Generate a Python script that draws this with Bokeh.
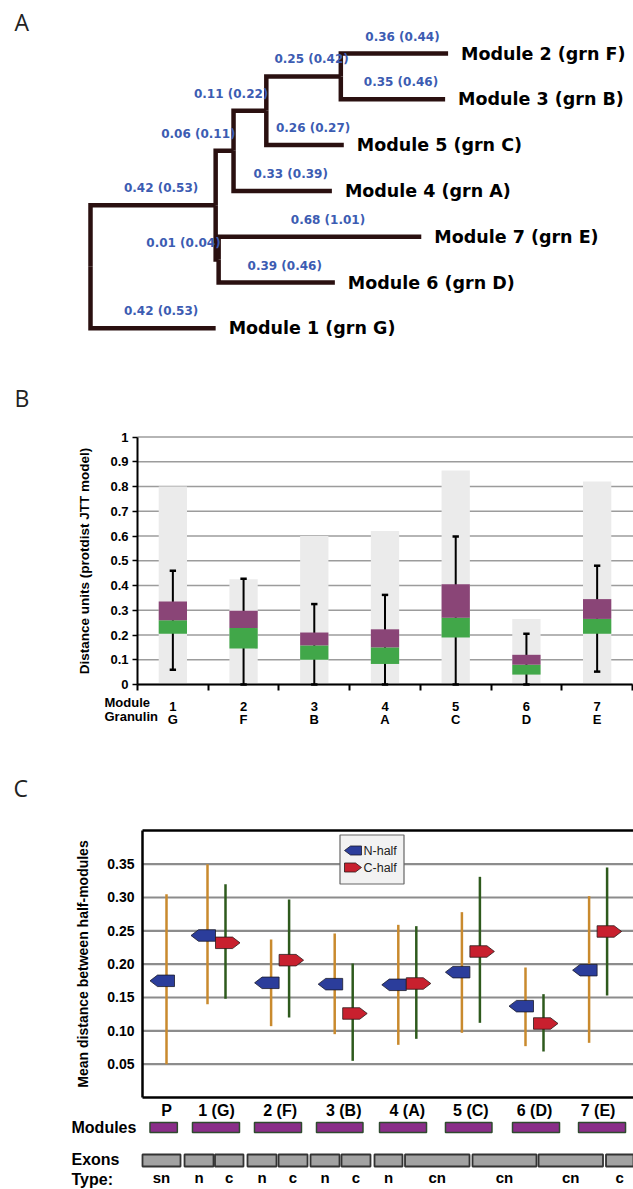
import numpy as np
from bokeh.plotting import figure
from bokeh.models import Range1d, FixedTicker, LinearAxis
from bokeh.layouts import column
from bokeh.embed import file_html
from bokeh.resources import INLINE
from bokeh.core.properties import value

# ======================= DATA =======================
# Panel A : tree (parent, child, branch length, label)
tree_parent = ["root", "root", "n1", "n1", "n2", "n2", "n3", "n3", "n4", "n4", "n5", "n5"]
tree_child = ["n1", "M1", "n2", "n5", "n3", "M4", "n4", "M5", "M2", "M3", "M7", "M6"]
branch_len = [0.42, 0.42, 0.06, 0.01, 0.11, 0.33, 0.25, 0.26, 0.36, 0.35, 0.68, 0.39]
branch_text = ["0.42 (0.53)", "0.42 (0.53)", "0.06 (0.11)", "0.01 (0.04)", "0.11 (0.22)",
               "0.33 (0.39)", "0.25 (0.42)", "0.26 (0.27)", "0.36 (0.44)", "0.35 (0.46)",
               "0.68 (1.01)", "0.39 (0.46)"]
leaf_ids = ["M2", "M3", "M5", "M4", "M7", "M6", "M1"]
leaf_names = ["Module 2 (grn F)", "Module 3 (grn B)", "Module 5 (grn C)", "Module 4 (grn A)",
              "Module 7 (grn E)", "Module 6 (grn D)", "Module 1 (grn G)"]

# Panel B
modules_b = ["1", "2", "3", "4", "5", "6", "7"]
granulins_b = ["G", "F", "B", "A", "C", "D", "E"]
max_b = [0.80, 0.425, 0.60, 0.62, 0.865, 0.265, 0.82]
q1_b = [0.205, 0.145, 0.10, 0.083, 0.19, 0.04, 0.205]
median_b = [0.26, 0.228, 0.158, 0.15, 0.27, 0.08, 0.265]
q3_b = [0.335, 0.298, 0.21, 0.223, 0.405, 0.12, 0.345]
wlow_b = [0.06, 0.0, 0.0, 0.0, 0.0, 0.0, 0.052]
whigh_b = [0.46, 0.427, 0.325, 0.362, 0.598, 0.205, 0.48]
yticks_b = [0.0, 0.1, 0.2, 0.3, 0.4, 0.5, 0.6, 0.7, 0.8, 0.9, 1.0]
ytick_labels_b = ["0", "0.1", "0.2", "0.3", "0.4", "0.5", "0.6", "0.7", "0.8", "0.9", "1"]

# Panel C
cats_c = ["P", "1 (G)", "2 (F)", "3 (B)", "4 (A)", "5 (C)", "6 (D)", "7 (E)"]
n_mean = [0.175, 0.243, 0.172, 0.170, 0.169, 0.188, 0.137, 0.191]
n_low = [0.050, 0.140, 0.107, 0.095, 0.079, 0.097, 0.077, 0.082]
n_high = [0.305, 0.350, 0.237, 0.246, 0.259, 0.278, 0.195, 0.302]
c_mean = [np.nan, 0.232, 0.206, 0.126, 0.171, 0.219, 0.111, 0.249]
c_low = [np.nan, 0.148, 0.120, 0.055, 0.088, 0.112, 0.069, 0.153]
c_high = [np.nan, 0.320, 0.297, 0.201, 0.257, 0.331, 0.155, 0.345]
yticks_c = [0.05, 0.10, 0.15, 0.20, 0.25, 0.30, 0.35]
ytick_labels_c = ["0.05", "0.10", "0.15", "0.20", "0.25", "0.30", "0.35"]
module_start = [-0.03, 0.638, 1.613, 2.588, 3.579, 4.616, 5.670, 6.708]
module_end = [0.40, 1.377, 2.352, 3.319, 4.318, 5.347, 6.409, 7.447]
exon_types = ["sn", "n", "c", "n", "c", "n", "c", "n", "cn", "cn", "cn", "c"]
exon_start = [-0.148, 0.513, 0.992, 1.503, 1.991, 2.494, 2.981, 3.500, 3.980, 5.041, 6.079, 7.140]
exon_end = [0.450, 0.969, 1.440, 1.959, 2.447, 2.950, 3.437, 3.940, 4.994, 6.047, 7.093, 7.572]

# ======================= LAYOUT =======================
W = 633
ARIAL = "Liberation Sans"
DV = "DejaVu Sans"
LETTER = "Open Sans"


def make_fig(h, xr, yr):
    p = figure(width=W, height=h, output_backend="svg", toolbar_location=None,
               x_range=xr, y_range=yr, x_axis_location=None, y_axis_location=None,
               min_border_left=0, min_border_right=0, min_border_top=0, min_border_bottom=0)
    p.background_fill_color = "white"
    p.border_fill_color = "white"
    p.outline_line_color = None
    p.grid.visible = False
    return p


# ---------------- Panel A (page y 0-370) ----------------
HA = 370
SXA, SYA = 298.0, 45.8
ROOT_PX, LEAF0_PX = 90.0, 53.0
pa = make_fig(HA, Range1d(-ROOT_PX / SXA, (W - ROOT_PX) / SXA),
              Range1d((HA - LEAF0_PX) / SYA, -LEAF0_PX / SYA))

xpos = {"root": 0.0}
for par, ch, L in zip(tree_parent, tree_child, branch_len):
    xpos[ch] = xpos[par] + L
ypos = {leaf: float(i) for i, leaf in enumerate(leaf_ids)}
children = {}
for par, ch in zip(tree_parent, tree_child):
    children.setdefault(par, []).append(ch)


def gety(n):
    if n not in ypos:
        ys = [gety(c) for c in children[n]]
        ypos[n] = (min(ys) + max(ys)) / 2.0
    return ypos[n]


gety("root")
exs = [[xpos[p], xpos[p], xpos[c]] for p, c in zip(tree_parent, tree_child)]
eys = [[ypos[p], ypos[c], ypos[c]] for p, c in zip(tree_parent, tree_child)]
pa.multi_line(exs, eys, line_width=4.5, line_color="#2a1010", line_join="miter", line_cap="butt")

cx_l, cy_l, ct_l, rx_l, ry_l, rt_l = [], [], [], [], [], []
for p, c, L, t in zip(tree_parent, tree_child, branch_len, branch_text):
    yl = ypos[c] - 17.0 / SYA
    if L >= 0.2:
        cx_l.append((xpos[p] + xpos[c]) / 2 + 8.0 / SXA); cy_l.append(yl); ct_l.append(t)
    else:
        rx_l.append(xpos[c] + 2.0 / SXA); ry_l.append(yl); rt_l.append(t)
pa.text(cx_l, cy_l, ct_l, text_align="center", text_baseline="middle", text_font=value(DV),
        text_font_style="bold", text_font_size="12px", text_color="#3c5cb2")
pa.text(rx_l, ry_l, rt_l, text_align="right", text_baseline="middle", text_font=value(DV),
        text_font_style="bold", text_font_size="12px", text_color="#3c5cb2")
pa.text([xpos[l] + 13.0 / SXA for l in leaf_ids], [ypos[l] for l in leaf_ids], leaf_names,
        text_align="left", text_baseline="middle", text_font=value(DV), text_font_style="bold",
        text_font_size="17.5px", text_color="black")
pa.text([(14 - ROOT_PX) / SXA], [(21 - LEAF0_PX) / SYA], ["A"], text_align="left",
        text_baseline="middle", text_font=value(LETTER), text_font_size="23px", text_color="#222222")

# ---------------- Panel B (page y 370-745) ----------------
HB = 375
BX0, BY0 = 137.0, 684.0          # page px of data origin
BSX, BSY = (632 - 137) / 7.0, 247.5
TOPB = 370


def bx(px):
    return (px - BX0) / BSX


def by(py):
    return (BY0 - py) / BSY


pb = make_fig(HB, Range1d(bx(0), bx(W)), Range1d(by(TOPB + HB), by(TOPB)))
xb = [i + 0.5 for i in range(len(modules_b))]
nb = len(modules_b)
# horizontal grid lines
pb.segment(x0=[0] * len(yticks_b), y0=yticks_b, x1=[bx(W)] * len(yticks_b), y1=yticks_b,
           line_color="#9c9c9c", line_width=1.5)
pb.vbar(x=xb, top=max_b, bottom=0, width=0.4, fill_color="#ebebeb", line_color=None)
pb.segment(x0=xb, y0=wlow_b, x1=xb, y1=whigh_b, line_color="black", line_width=2)
pb.segment(x0=[x - 0.045 for x in xb], y0=whigh_b, x1=[x + 0.045 for x in xb], y1=whigh_b,
           line_color="black", line_width=2.5)
pb.segment(x0=[x - 0.045 for x in xb], y0=wlow_b, x1=[x + 0.045 for x in xb], y1=wlow_b,
           line_color="black", line_width=2.5)
pb.vbar(x=xb, bottom=q1_b, top=median_b, width=0.4, fill_color="#41a749", line_color=None)
pb.vbar(x=xb, bottom=median_b, top=q3_b, width=0.4, fill_color="#8a4577", line_color=None)

ya = LinearAxis(fixed_location=0, bounds=(0, 1.0), ticker=FixedTicker(ticks=yticks_b),
                major_label_overrides={t: s for t, s in zip(yticks_b, ytick_labels_b)},
                axis_line_color="black", axis_line_width=2, major_tick_out=5, major_tick_in=0,
                major_tick_line_width=1.5, minor_tick_line_color=None, major_label_standoff=4,
                major_label_text_font=ARIAL, major_label_text_font_style="bold",
                major_label_text_font_size="13px", major_label_text_color="black",
                axis_label="Distance units (protdist JTT model)", axis_label_text_font=ARIAL,
                axis_label_text_font_style="bold", axis_label_text_font_size="13.5px",
                axis_label_text_color="black", axis_label_standoff=15)
pb.add_layout(ya, "left")

xa = LinearAxis(fixed_location=0, bounds=(0, nb),
                ticker=FixedTicker(ticks=xb, minor_ticks=list(range(nb + 1))),
                major_label_overrides={x: s for x, s in zip(xb, modules_b)},
                axis_line_color="black", axis_line_width=2, major_tick_line_color=None,
                major_tick_out=0, minor_tick_line_color="black", minor_tick_line_width=2,
                minor_tick_out=6, minor_tick_in=0, major_label_standoff=11,
                major_label_text_font=ARIAL, major_label_text_font_style="bold",
                major_label_text_font_size="13px", major_label_text_color="black")
pb.add_layout(xa, "below")
xa2 = LinearAxis(fixed_location=0, bounds=(0, nb), ticker=FixedTicker(ticks=xb),
                 major_label_overrides={x: s for x, s in zip(xb, granulins_b)},
                 axis_line_color=None, major_tick_line_color=None, minor_tick_line_color=None,
                 major_tick_out=0, major_tick_in=0, major_label_standoff=27,
                 major_label_text_font=ARIAL, major_label_text_font_style="bold",
                 major_label_text_font_size="13px", major_label_text_color="black",
                 major_label_text_align="left")
pb.add_layout(xa2, "below")

pb.text([bx(104), bx(104)], [by(702), by(716)], ["Module", "Granulin"], text_align="left",
        text_baseline="middle", text_font=value(ARIAL), text_font_style="bold",
        text_font_size="13px", text_color="black")
pb.text([bx(14)], [by(397)], ["B"], text_align="left", text_baseline="middle",
        text_font=value(LETTER), text_font_size="23px", text_color="#222222")

# ---------------- Panel C (page y 745-1189) ----------------
HC = 1189 - 745
TOPC = 745
SCX, SCY = 63.6, 666.7


def rx(px):  # page px -> panel C data x (module k centred at k)
    return 1 + (px - 215) / SCX


def ry(py):
    return (1097 - py) / SCY


pc = make_fig(HC, Range1d(rx(0), rx(W)), Range1d(ry(TOPC + HC), ry(TOPC)))
XC0, XC1, YC1 = rx(142), rx(W), 0.40

pc.segment(x0=[XC0] * len(yticks_c), y0=yticks_c, x1=[XC1] * len(yticks_c), y1=yticks_c,
           line_color="#8c8c8c", line_width=2.2)

cat_pos = [rx(174)] + [float(k) for k in range(1, 8)]
N_OFF, C_OFF = -8.0 / SCX, 10.0 / SCX
WM, W1, HM = 24.5 / SCX, 17.0 / SCX, 11.5 / SCY

nx = [c + N_OFF for c in cat_pos]
pc.segment(x0=nx, y0=n_low, x1=nx, y1=n_high, line_color="#c98a2e", line_width=2.5)
has_c = [i for i in range(len(cats_c)) if not np.isnan(c_mean[i])]
cxl = [cat_pos[i] + C_OFF for i in has_c]
pc.segment(x0=cxl, y0=[c_low[i] for i in has_c], x1=cxl, y1=[c_high[i] for i in has_c],
           line_color="#2e5a1d", line_width=2.5)


def left_arrow(x, y, wm, w1, h):
    return [x, x - w1, x - wm, x - w1, x], [y + h / 2, y + h / 2, y, y - h / 2, y - h / 2]


def right_arrow(x, y, wm, w1, h):
    return [x, x + w1, x + wm, x + w1, x], [y + h / 2, y + h / 2, y, y - h / 2, y - h / 2]


la = [left_arrow(c, m, WM, W1, HM) for c, m in zip(cat_pos, n_mean)]
pc.patches([a[0] for a in la], [a[1] for a in la], fill_color="#2b3d9b", line_color="#1a1a2a",
           line_width=0.8)
ra = [right_arrow(cat_pos[i], c_mean[i], WM, W1, HM) for i in has_c]
pc.patches([a[0] for a in ra], [a[1] for a in ra], fill_color="#c8202e", line_color="#2a1a1a",
           line_width=0.8)

# legend (manual, to keep arrow-shaped swatches)
pc.quad(left=[rx(339.5)], right=[rx(403.5)], bottom=[ry(883.5)], top=[ry(834.5)],
        fill_color="#f2f2f2", line_color="#666666", line_width=1.2)
lb = left_arrow(rx(361), ry(850), 17.0 / SCX, 11.0 / SCX, 9.0 / SCY)
pc.patch(lb[0], lb[1], fill_color="#2b3d9b", line_color="#1a1a2a", line_width=0.8)
lr = right_arrow(rx(344), ry(867), 17.0 / SCX, 11.0 / SCX, 9.0 / SCY)
pc.patch(lr[0], lr[1], fill_color="#c8202e", line_color="#2a1a1a", line_width=0.8)
pc.text([rx(363), rx(363)], [ry(850), ry(867)], ["N-half", "C-half"], text_align="left",
        text_baseline="middle", text_font=value(ARIAL), text_font_size="12.5px",
        text_color="#222222")

yc = LinearAxis(fixed_location=XC0, bounds=(0, YC1), ticker=FixedTicker(ticks=yticks_c),
                major_label_overrides={t: s for t, s in zip(yticks_c, ytick_labels_c)},
                axis_line_color="black", axis_line_width=2.5, major_tick_line_color=None,
                major_tick_out=0, minor_tick_line_color=None, major_label_standoff=8,
                major_label_text_font=ARIAL, major_label_text_font_style="bold",
                major_label_text_font_size="14px", major_label_text_color="black",
                axis_label="Mean distance between half-modules", axis_label_text_font=ARIAL,
                axis_label_text_font_style="bold", axis_label_text_font_size="14px",
                axis_label_text_color="black", axis_label_standoff=13)
pc.add_layout(yc, "left")

label_pos = []
for i in range(len(cats_c)):
    xs_here = [nx[i]] + ([cat_pos[i] + C_OFF] if i in has_c else [])
    label_pos.append(sum(xs_here) / len(xs_here))
xcx = LinearAxis(fixed_location=0, bounds=(XC0, XC1), ticker=FixedTicker(ticks=label_pos),
                 major_label_overrides={x: s for x, s in zip(label_pos, cats_c)},
                 axis_line_color="black", axis_line_width=2.5, major_tick_line_color=None,
                 major_tick_out=0, minor_tick_line_color=None, major_label_standoff=4,
                 major_label_text_font=ARIAL, major_label_text_font_style="bold",
                 major_label_text_font_size="16px", major_label_text_color="black")
pc.add_layout(xcx, "below")
top_ax = LinearAxis(fixed_location=YC1, bounds=(XC0, XC1), ticker=FixedTicker(ticks=[]),
                    axis_line_color="black", axis_line_width=2.5, major_tick_line_color=None,
                    minor_tick_line_color=None, major_tick_out=0, major_label_standoff=0)
pc.add_layout(top_ax, "above")

pc.text([rx(13)], [ry(787)], ["C"], text_align="left", text_baseline="middle",
        text_font=value(LETTER), text_font_size="23px", text_color="#222222")

# module / exon rows
pc.quad(left=module_start, right=module_end, top=ry(1122), bottom=ry(1132), fill_color="#8a2e89",
        line_color="#2f4a2f", line_width=1.5)
pc.quad(left=exon_start, right=exon_end, top=ry(1154), bottom=ry(1166), fill_color="#a2a2a2",
        line_color="#333333", line_width=1.8)
pc.text([(s + e) / 2 for s, e in zip(exon_start, exon_end)], [ry(1177)] * len(exon_types),
        exon_types, text_align="center", text_baseline="middle", text_font=value(ARIAL),
        text_font_style="bold", text_font_size="15px", text_color="black")
pc.text([rx(71)] * 3, [ry(1127), ry(1159), ry(1179)], ["Modules", "Exons", "Type:"],
        text_align="left", text_baseline="middle", text_font=value(ARIAL), text_font_style="bold",
        text_font_size="16px", text_color="black")

layout = column(pa, pb, pc, spacing=0)
open("out.html", "w").write(file_html(layout, INLINE))
